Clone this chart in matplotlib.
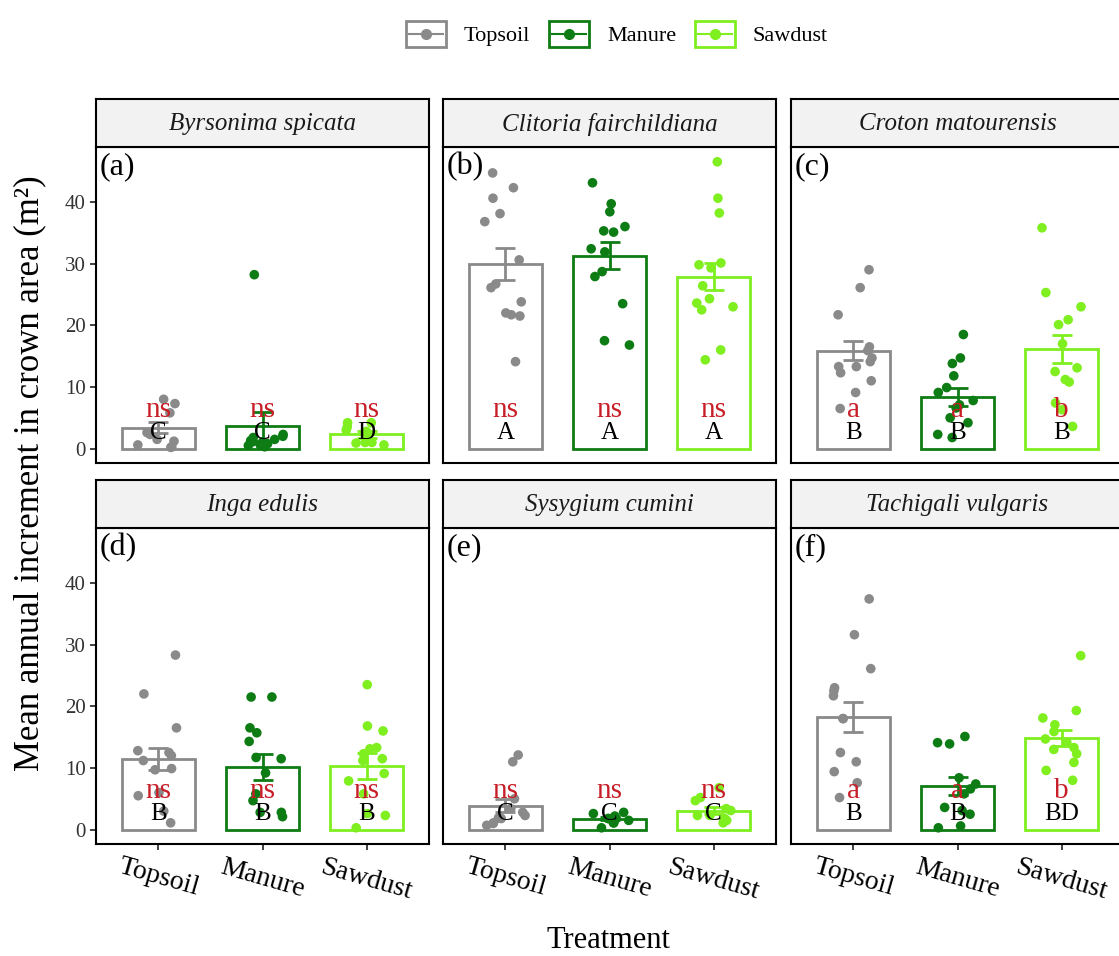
import numpy as np
import matplotlib
matplotlib.use("Agg")
import matplotlib.pyplot as plt
from matplotlib.lines import Line2D
from matplotlib.patches import Rectangle
from matplotlib.legend_handler import HandlerBase

plt.rcParams['font.family'] = ['Liberation Serif', 'DejaVu Serif']

# --- data ---
species = ["Byrsonima spicata", "Clitoria fairchildiana", "Croton matourensis",
           "Inga edulis", "Sysygium cumini", "Tachigali vulgaris"]
tags = ["(a)", "(b)", "(c)", "(d)", "(e)", "(f)"]
treatments = ["Topsoil", "Manure", "Sawdust"]
colors = ["#8A8A8A", "#0E7C14", "#7FEF1F"]

bar_means = [[3.4, 3.6, 2.3],
             [30.0, 31.3, 27.9],
             [15.9, 8.4, 16.2],
             [11.5, 10.2, 10.3],
             [3.9, 1.8, 3.1],
             [18.3, 7.1, 14.9]]
bar_se = [[0.9, 2.3, 0.5],
          [2.6, 2.2, 2.2],
          [1.6, 1.5, 2.3],
          [1.8, 2.1, 2.1],
          [1.0, 0.3, 0.6],
          [2.4, 1.5, 1.3]]
red_letters = [["ns", "ns", "ns"], ["ns", "ns", "ns"], ["a", "a", "b"],
               ["ns", "ns", "ns"], ["ns", "ns", "ns"], ["a", "a", "b"]]
black_letters = [["C", "C", "D"], ["A", "A", "A"], ["B", "B", "B"],
                 ["B", "B", "B"], ["C", "C", "C"], ["B", "B", "BD"]]

pts_byrsonima = [[8.0, 7.3, 5.8, 2.6, 2.3, 1.2, 0.6, 0.3, 0.2, 1.5],
                 [28.2, 1.8, 1.1, 0.6, 1.1, 0.3, 2.3, 1.5, 0.8, 2.0, 1.3, 0.5],
                 [4.2, 4.2, 3.5, 2.3, 1.0, 0.6, 1.0, 1.8, 2.8, 0.9, 3.0]]
pts_clitoria = [[44.7, 42.3, 40.6, 38.1, 36.8, 30.6, 26.1, 26.7, 23.8, 22.0, 21.5, 21.7, 14.1],
                [43.1, 39.7, 38.4, 36.0, 35.3, 35.1, 32.4, 31.9, 28.7, 27.9, 23.5, 17.5, 16.8],
                [46.5, 40.6, 38.2, 30.1, 29.8, 29.3, 26.4, 24.3, 23.6, 23.0, 22.5, 16.0, 14.4]]
pts_croton = [[29.0, 26.1, 21.7, 15.9, 14.7, 14.1, 13.3, 13.3, 12.3, 11.0, 9.1, 6.5, 16.5],
              [18.5, 14.7, 13.8, 11.8, 9.9, 9.1, 7.8, 6.6, 7.1, 5.0, 4.2, 2.3, 1.8],
              [35.8, 25.3, 23.0, 20.9, 20.1, 17.0, 13.1, 12.5, 11.2, 10.8, 7.4, 6.3, 3.6]]
pts_inga = [[28.3, 22.0, 16.5, 12.8, 12.5, 12.0, 11.2, 9.7, 9.9, 5.5, 3.0, 1.1, 6.0],
            [21.5, 21.5, 16.5, 15.7, 14.3, 11.7, 11.5, 9.2, 5.8, 4.7, 2.8, 2.8, 2.1],
            [23.5, 16.8, 16.0, 13.3, 13.1, 12.3, 11.5, 11.2, 9.1, 7.9, 5.8, 2.6, 2.3, 0.3]]
pts_sysygium = [[12.1, 11.0, 5.0, 3.4, 2.3, 1.9, 1.8, 1.0, 0.7, 1.1, 2.8],
                [2.8, 2.6, 1.1, 1.8, 1.1, 1.8, 0.3, 1.5, 1.8, 2.2],
                [6.8, 5.2, 4.7, 2.3, 1.8, 1.5, 1.1, 2.3, 3.1, 3.4]]
pts_tachigali = [[37.4, 31.6, 26.1, 23.0, 22.5, 21.7, 18.0, 18.0, 12.5, 11.0, 9.4, 7.6, 5.2],
                 [15.1, 14.1, 13.9, 7.4, 8.4, 6.6, 5.8, 3.1, 3.6, 0.6, 0.3, 2.5],
                 [28.2, 19.3, 18.1, 17.0, 15.9, 14.7, 14.1, 13.3, 13.0, 12.3, 10.9, 9.6, 8.0]]
points = [pts_byrsonima, pts_clitoria, pts_croton, pts_inga, pts_sysygium, pts_tachigali]


class KeyHandler(HandlerBase):
    # boxed key with line and dot, like the ggplot legend
    def create_artists(self, legend, orig_handle, xdescent, ydescent,
                       width, height, fontsize, trans):
        c = orig_handle.get_color()
        x0, y0 = -xdescent, -ydescent
        box = Rectangle((x0, y0), width, height, fill=False, edgecolor=c,
                        lw=2, transform=trans)
        ln = Line2D([x0 + 0.08 * width, x0 + 0.92 * width],
                    [y0 + height / 2] * 2, color=c, lw=1.5, transform=trans)
        dot = Line2D([x0 + width / 2], [y0 + height / 2], marker='o', ms=7,
                     color=c, lw=0, transform=trans)
        return [box, ln, dot]


W, H = 1119, 956
fig = plt.figure(figsize=(W / 100, H / 100), dpi=100)


def px_axes(x0, y0, w, h):
    return fig.add_axes([x0 / W, 1 - (y0 + h) / H, w / W, h / H])


col_x = [96, 443, 791]
row_y = [147, 528]
pw, ph, sh = 333, 316, 48
rng = np.random.default_rng(7)
xpos = np.arange(1, 4)

for k in range(6):
    r, c = divmod(k, 3)
    ax = px_axes(col_x[c], row_y[r], pw, ph)
    st = px_axes(col_x[c], row_y[r] - sh, pw, sh)

    ax.bar(xpos, bar_means[k], width=0.7, fill=False, edgecolor=colors,
           linewidth=2, zorder=1)
    for i in range(3):
        ax.errorbar(xpos[i], bar_means[k][i], yerr=bar_se[k][i], fmt='none',
                    ecolor=colors[i], elinewidth=2, capsize=7, capthick=2, zorder=2)
        vals = np.array(points[k][i])
        jit = rng.uniform(-0.2, 0.2, len(vals))
        ax.scatter(xpos[i] + jit, vals, s=48, color=colors[i], edgecolors='none',
                   zorder=3)
        ax.text(xpos[i], 6.3, red_letters[k][i], color="#C81E28", fontsize=21,
                ha='center', va='center', zorder=4)
        ax.text(xpos[i], 2.6, black_letters[k][i], color="black", fontsize=18,
                ha='center', va='center', zorder=5)

    ax.text(0.012, 0.985, tags[k], transform=ax.transAxes, fontsize=23,
            ha='left', va='top')
    ax.set_xlim(0.4, 3.6)
    ax.set_ylim(-2.33, 48.9)
    for s in ax.spines.values():
        s.set_linewidth(1.5)
    ax.set_yticks([0, 10, 20, 30, 40])
    ax.set_xticks(xpos)
    ax.tick_params(length=4, width=1.3, colors='#333333', labelsize=15)
    if c == 0:
        ax.set_yticklabels(["0", "10", "20", "30", "40"])
    else:
        ax.tick_params(axis='y', length=0, labelleft=False)
    if r == 1:
        ax.set_xticklabels(treatments, fontsize=20, color='black', rotation=-16,
                           ha='center', va='top')
    else:
        ax.tick_params(axis='x', length=0, labelbottom=False)

    st.set_facecolor('#F2F2F2')
    st.set_xticks([])
    st.set_yticks([])
    for s in st.spines.values():
        s.set_linewidth(1.5)
    st.text(0.5, 0.47, species[k], transform=st.transAxes, fontsize=18,
            style='italic', ha='center', va='center', color='#1A1A1A')

fig.text(30 / W, 0.505, "Mean annual increment in crown area (m²)", rotation=90,
         fontsize=25, ha='center', va='center')
fig.text(608 / W, 1 - 940 / H, "Treatment", fontsize=22, ha='center', va='center')

handles = [Line2D([], [], color=col) for col in colors]
fig.legend(handles, treatments, loc='center', bbox_to_anchor=(617 / W, 1 - 34 / H),
           ncol=3, frameon=False, fontsize=16, handler_map={Line2D: KeyHandler()},
           handlelength=1.8, handleheight=1.45, handletextpad=0.8, columnspacing=0.85)

fig.savefig("out.png", dpi=100)
